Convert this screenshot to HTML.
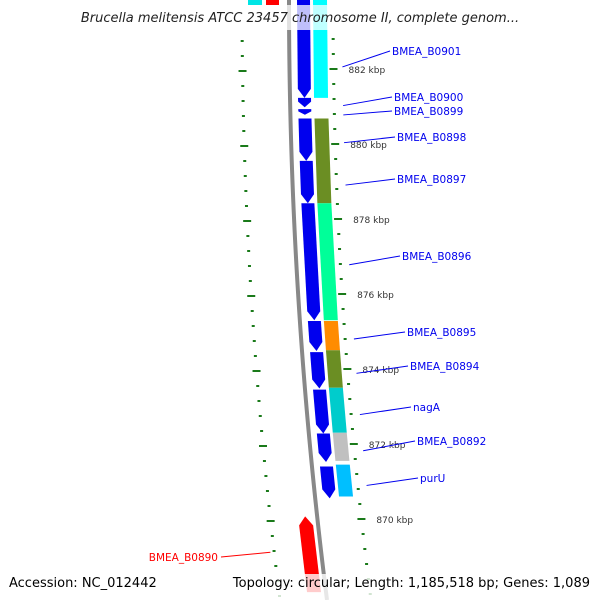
<!DOCTYPE html>
<html><head><meta charset="utf-8"><style>
html,body{margin:0;padding:0;background:#fff;width:600px;height:600px;overflow:hidden}
svg{display:block;font-family:"DejaVu Sans","Liberation Sans",sans-serif}
</style></head><body>
<svg id="map" width="600" height="600"></svg>
<script>
const geneNames=["BMEA_B0901","BMEA_B0900","BMEA_B0899","BMEA_B0898","BMEA_B0897","BMEA_B0896","BMEA_B0895","BMEA_B0894","nagA","BMEA_B0892","purU","BMEA_B0890"];
const geneStart=[883.85,881.23,880.93,880.68,879.55,878.42,875.28,874.45,873.45,872.28,871.4,870.07];
const geneEnd=[881.23,880.98,880.78,879.55,878.42,875.3,874.48,873.48,872.28,871.52,870.55,868.05];
const geneStrand=[-1,-1,-1,-1,-1,-1,-1,-1,-1,-1,-1,1];
const cogStart=[883.85,null,null,880.68,null,878.42,875.28,874.5,873.5,872.3,871.45,null];
const cogEnd=[881.23,null,null,878.42,null,875.3,874.5,873.5,872.3,871.55,870.6,null];
const cogColor=["#00ffff",null,null,"#6b8e23",null,"#00ff99","#ff8c00","#6b8e23","#00cccc","#c0c0c0","#00bfff",null];
const labelX=[392,394,394,397,397,402,407,410,413,417,420,218];
const labelY=[55,101,115,141,183,260,336,370,411,445,482,558];
const majorTicks=[882,880,878,876,874,872,870];
const majorTickLabels=["882 kbp","880 kbp","878 kbp","876 kbp","874 kbp","872 kbp","870 kbp"];

const S=document.getElementById('map');const NS='http://www.w3.org/2000/svg';
function y(k){return 69+(882-k)*37.5;}
function bx(yy){return 289+38*Math.pow(yy/600,2);}
function mk(t,a,p){const e=document.createElementNS(NS,t);for(const k in a)e.setAttribute(k,a[k]);(p||S).appendChild(e);return e;}
let d='';for(let yy=0;yy<=600;yy+=10){d+=(yy?'L':'M')+bx(yy)+','+yy;}
let bb=mk('path',{d:d,stroke:'#888',fill:'none','stroke-width':4});

let r1=mk('rect',{x:248,y:0,width:14,height:5,fill:'#00e5e5'});
let r2=mk('rect',{x:266,y:0,width:13,height:5,fill:'#ff0000'});
for(let k=884;k>=868;k-=0.4){const yy=y(k);if(yy<35||yy>600)continue;
 const maj=majorTicks.some(m=>Math.abs(m-k)<0.05);
 const w=maj?8:3;
 let t1=mk('rect',{x:bx(yy)+44-w/2,y:yy-1,width:w,height:2,fill:'#1a7a1a'});
 
 const yl=yy+2;let t2=mk('rect',{x:bx(yl)-47-w/2,y:yl-1,width:w,height:2,fill:'#1a7a1a'});
 }
majorTicks.forEach((m,i)=>{const yy=y(m);let t=mk('text',{x:bx(yy)+59,y:yy+4,'font-size':9,fill:'#333'});t.textContent=majorTickLabels[i];
 });
function poly(y1,y2,off,w,dir,fill){const h=Math.min(9,(y2-y1)*0.6);const pts=[];
 if(dir<0){pts.push([bx(y1)+off,y1],[bx(y1)+off+w,y1],[bx(y2-h)+off+w,y2-h],[bx(y2)+off+w/2,y2],[bx(y2-h)+off,y2-h]);}
 else if(dir>0){pts.push([bx(y1)+off+w/2,y1],[bx(y1+h)+off+w,y1+h],[bx(y2)+off+w,y2],[bx(y2)+off,y2],[bx(y1+h)+off,y1+h]);}
 else{pts.push([bx(y1)+off,y1],[bx(y1)+off+w,y1],[bx(y2)+off+w,y2],[bx(y2)+off,y2]);}
 return mk('polygon',{points:pts.map(p=>p.join(',')).join(' '),fill:fill});}
geneNames.forEach((n,i)=>{const y1=y(geneStart[i]),y2=y(geneEnd[i]);
 let g;if(geneStrand[i]<0)g=poly(y1,y2,8,13,-1,'#0000ee');else g=poly(y1,y2,-19,14,1,'#ff0000');
 
 if(cogColor[i]){let c=poly(y(cogStart[i]),y(cogEnd[i]),24,14,0,cogColor[i]);
  }
 const col=geneStrand[i]<0?'#0000ee':'#ff0000';const gy=(Math.max(y1,30)+y2)/2;
 let ln,tx;
 if(geneStrand[i]<0){ln=mk('line',{x1:bx(gy)+53,y1:gy+3,x2:labelX[i]-2,y2:labelY[i]-4,stroke:col});
  tx=mk('text',{x:labelX[i],y:labelY[i],'font-size':10.5,fill:col});}
 else{ln=mk('line',{x1:bx(gy)-51,y1:gy-2,x2:labelX[i]+3,y2:labelY[i]-1,stroke:col});
  tx=mk('text',{x:labelX[i],y:labelY[i]+3,'font-size':10.5,fill:col,'text-anchor':'end'});}
 tx.textContent=n;
 
 });
let f1=mk('rect',{x:0,y:5,width:600,height:25,fill:'#fff','fill-opacity':0.75});
let f2=mk('rect',{x:0,y:574,width:600,height:26,fill:'#fff','fill-opacity':0.8});
let ti=mk('text',{x:300,y:22,'font-size':13,'font-style':'italic','text-anchor':'middle',fill:'#222'});ti.textContent='Brucella melitensis ATCC 23457 chromosome II, complete genom...';

let a1=mk('text',{x:9,y:587,'font-size':13,fill:'#000'});a1.textContent='Accession: NC_012442';

let a2=mk('text',{x:590,y:587,'font-size':13,fill:'#000','text-anchor':'end'});a2.textContent='Topology: circular; Length: 1,185,518 bp; Genes: 1,089';

</script>
</body></html>
